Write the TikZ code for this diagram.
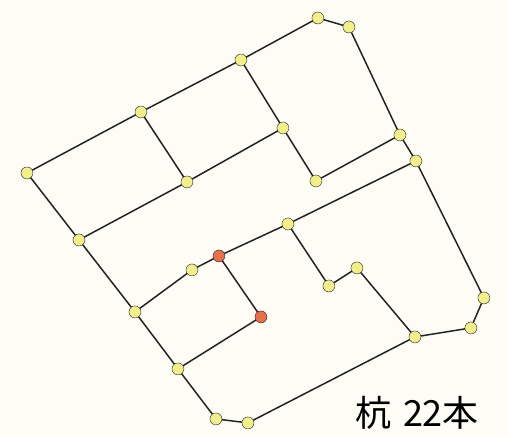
\documentclass[tikz,border=0pt]{standalone}
\usepackage{fontspec}
\newfontfamily\cjk{Noto Sans CJK JP}
\usepackage{tkz-euclide}
\definecolor{PaperClr}{RGB}{253,253,246}
\definecolor{PileClr}{RGB}{241,238,140}
\definecolor{RedPileClr}{RGB}{230,112,78}
\definecolor{LineClr}{RGB}{35,35,35}

\begin{document}
\begin{tikzpicture}[scale=.03515]
\fill[PaperClr] (0,0) rectangle (508,-437);
\useasboundingbox (0,0) rectangle (508,-437);
\tkzSetUpLine[line width=1.5pt,color=LineClr]
\tkzSetUpPoint[fill=PileClr,color=LineClr,line width=1.3pt]

\tkzDefPoints{27/-173/A,141/-112/B,241/-60/C,318/-18/D,349/-27/E,400/-135/F,416/-161/G,283/-128/H}
\tkzDefPoints{187/-182/I,316/-181/J,79/-240/K,288/-224/L,219/-256/M,192/-270/N,135/-312/O,261/-317/P}
\tkzDefPoints{329/-286/Q,357/-268/R,178/-369/S,216/-419/T,248/-423/U,415/-337/V,471/-328/W,484/-298/X}

% outline
\tkzDrawPolygon[line width=1.5pt](A,B,C,D,E,F,G,X,W,V,U,T,S,O,K)
% inner lines
\tkzDrawSegments[line width=1.5pt](B,I I,K C,H H,I H,J J,F G,L L,M M,N N,O M,P P,S L,Q Q,R R,V)

\tkzDrawPoints[size=12](A,B,C,D,E,F,G,H,I,J,K,L,N,O,Q,R,S,T,U,V,W,X)
\tkzDrawPoints[size=12,fill=RedPileClr](M,P)

\node[anchor=center] (total) at (417,-413) {\cjk\fontsize{36}{36}\selectfont 杭\hspace{12pt}22本};
\end{tikzpicture}
\end{document}
